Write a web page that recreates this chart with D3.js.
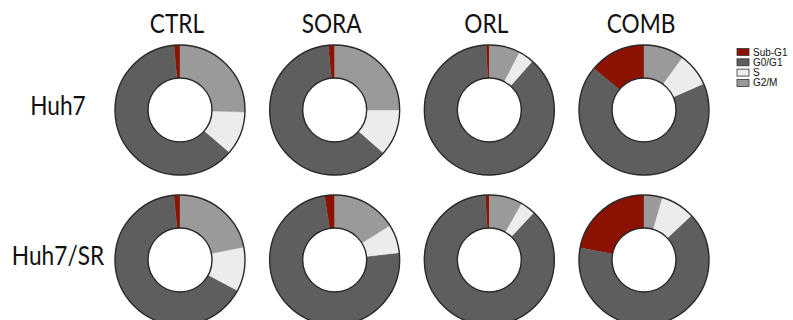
<!DOCTYPE html>
<html>
<head>
<meta charset="utf-8">
<script src="https://cdn.jsdelivr.net/npm/d3@7"></script>
<style>
  html, body { margin: 0; padding: 0; background: #fff; }
  svg { display: block; }
</style>
</head>
<body>
<svg id="chart" width="793" height="320"></svg>
<script>
// Cell-cycle distribution (%) per treatment and cell line
const treatments = ["CTRL", "SORA", "ORL", "COMB"];
const cellLines = ["Huh7", "Huh7/SR"];
const phases = ["Sub-G1", "G0/G1", "S", "G2/M"];

// One entry per donut: Huh7 row first, then Huh7/SR row, in treatment order
const subG1 = [1.5, 1.6, 0.8, 14.0, 1.5, 2.5, 1.0, 22.0];
const g0g1  = [62.2, 61.9, 87.7, 67.6, 65.7, 74.3, 87.0, 65.0];
const sPhase = [10.8, 11.5, 3.9, 8.4, 11.0, 7.1, 3.8, 8.5];
const g2m   = [25.5, 25.0, 7.6, 10.0, 21.8, 16.1, 8.2, 4.5];

const phaseColors = ["#8b1200", "#5e5e5e", "#ececec", "#9a9a9a"];

const svg = d3.select("#chart");

const x = d3.scalePoint().domain(treatments).range([180, 644]);
const y = d3.scalePoint().domain(cellLines).range([110, 260]);
const color = d3.scaleOrdinal().domain(phases).range(phaseColors);

const outerR = 65, innerR = 32;

const pie = d3.pie()
  .sort(null)
  .value(d => d.value)
  .startAngle(0)
  .endAngle(-2 * Math.PI);

const arc = d3.arc().innerRadius(innerR).outerRadius(outerR);

const cells = [];
cellLines.forEach((line, r) => {
  treatments.forEach((t, c) => {
    const i = r * treatments.length + c;
    cells.push({
      line, t,
      parts: [
        { phase: phases[0], value: subG1[i] },
        { phase: phases[1], value: g0g1[i] },
        { phase: phases[2], value: sPhase[i] },
        { phase: phases[3], value: g2m[i] }
      ]
    });
  });
});

const donut = svg.selectAll("g.donut")
  .data(cells)
  .join("g")
  .attr("class", "donut")
  .attr("transform", d => `translate(${x(d.t)},${y(d.line)})`);

donut.selectAll("path")
  .data(d => pie(d.parts))
  .join("path")
  .attr("d", arc)
  .attr("fill", d => color(d.data.phase))
  .attr("stroke", d => color(d.data.phase))
  .attr("stroke-width", 0.4);

donut.append("circle")
  .attr("r", outerR)
  .attr("fill", "none")
  .attr("stroke", "#2a2a2a")
  .attr("stroke-width", 1.4);

donut.append("circle")
  .attr("r", innerR)
  .attr("fill", "none")
  .attr("stroke", "#2a2a2a")
  .attr("stroke-width", 1.4);

// Condensed sans labels (horizontally compressed Lato)
const squeeze = 0.84;

// Column headers
svg.selectAll("text.col")
  .data(treatments)
  .join("text")
  .attr("class", "col")
  .attr("transform", d => `translate(${x(d) - 3},33) scale(${squeeze},1)`)
  .attr("text-anchor", "middle")
  .attr("font-family", "Lato, 'Open Sans', sans-serif")
  .attr("font-size", 27)
  .attr("fill", "#111")
  .text(d => d);

// Row labels
svg.selectAll("text.row")
  .data(cellLines)
  .join("text")
  .attr("class", "row")
  .attr("transform", d => `translate(58,${y(d) + 5}) scale(${squeeze},1)`)
  .attr("text-anchor", "middle")
  .attr("font-family", "Lato, 'Open Sans', sans-serif")
  .attr("font-size", 27)
  .attr("fill", "#111")
  .text(d => d);

// Legend
const legend = svg.append("g").attr("transform", "translate(737,48.5)");
const item = legend.selectAll("g")
  .data(phases)
  .join("g")
  .attr("transform", (d, i) => `translate(0,${i * 10.3})`);

item.append("rect")
  .attr("width", 12)
  .attr("height", 7)
  .attr("fill", d => color(d))
  .attr("stroke", "#333")
  .attr("stroke-width", 0.8);

item.append("text")
  .attr("x", 16)
  .attr("y", 7)
  .attr("font-family", "'Liberation Sans', Arial, sans-serif")
  .attr("font-size", 10)
  .attr("fill", "#111")
  .text(d => d);
</script>
</body>
</html>
